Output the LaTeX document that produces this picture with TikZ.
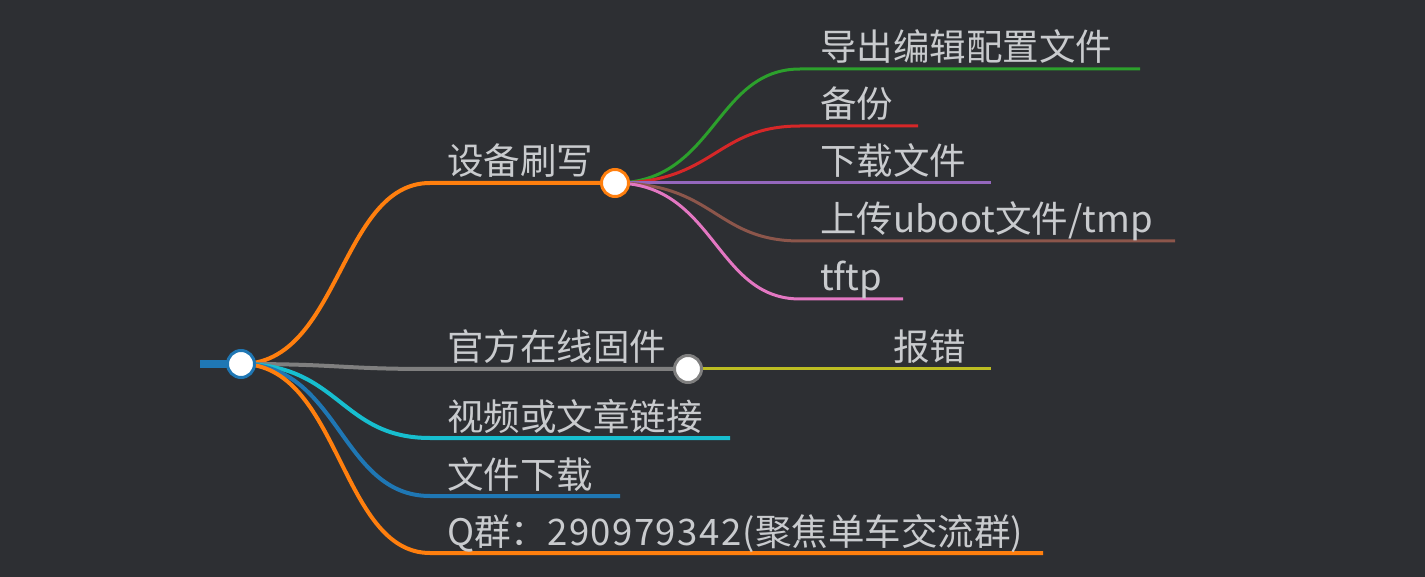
\documentclass[tikz,border=0pt]{standalone}
\usepackage{fontspec}
\newfontfamily\cjk{Noto Sans CJK SC}
\definecolor{bg}{HTML}{2D2F33}
\definecolor{txt}{HTML}{C9CBCE}
\definecolor{cblue}{HTML}{1F77B4}
\definecolor{corange}{HTML}{FF7F0E}
\definecolor{cgreen}{HTML}{2CA02C}
\definecolor{cred}{HTML}{D62728}
\definecolor{cpurple}{HTML}{9467BD}
\definecolor{cbrown}{HTML}{8C564B}
\definecolor{cpink}{HTML}{E377C2}
\definecolor{cgray}{HTML}{7F7F7F}
\definecolor{colive}{HTML}{BCBD22}
\definecolor{ccyan}{HTML}{17BECF}
\begin{document}
\begin{tikzpicture}[x=1pt,y=-1pt,
  br/.style={line width=4pt},
  sb/.style={line width=3pt},
  lab/.style={anchor=base west, inner sep=0pt, text=txt, font=\cjk\fontsize{36.5}{40}\selectfont},
  dotnode/.style={circle, fill=white, minimum size=27pt, inner sep=0pt, line width=3pt}]
\fill[bg] (0,0) rectangle (1425,577);
\useasboundingbox (0,0) rectangle (1425,577);
% coordinates
\coordinate (rootL) at (200,364);
\coordinate (root) at (241,364);
\coordinate (a1) at (430,183);  \coordinate (e1) at (615,183);
\coordinate (a2) at (430,369);  \coordinate (e2) at (688,369);
\coordinate (a3) at (430,438);  \coordinate (e3) at (730,438);
\coordinate (a4) at (430,496);  \coordinate (e4) at (620,496);
\coordinate (a5) at (430,553);  \coordinate (e5) at (1043,553);
\coordinate (s1) at (800,69);   \coordinate (f1) at (1140,69);
\coordinate (s2) at (800,126);  \coordinate (f2) at (918,126);
\coordinate (f3) at (991,183);
\coordinate (s4) at (800,241);  \coordinate (f4) at (1175,241);
\coordinate (s5) at (800,299);  \coordinate (f5) at (903,299);
\coordinate (f6) at (991,369);
% root bar
\draw[cblue, line width=8pt] (rootL) -- (root);
% main branches
\draw[br, corange] (root) .. controls (340,364) and (340,183) .. (a1) -- (e1);
\draw[br, cgray] (root) .. controls (340,364) and (340,369) .. (a2) -- (e2);
\draw[br, ccyan] (root) .. controls (340,364) and (340,438) .. (a3) -- (e3);
\draw[br, cblue] (root) .. controls (340,364) and (340,496) .. (a4) -- (e4);
\draw[br, corange] (root) .. controls (340,364) and (340,553) .. (a5) -- (e5);
% sub branches
\draw[sb, cgreen] (e1) .. controls (715,183) and (715,69) .. (s1) -- (f1);
\draw[sb, cred] (e1) .. controls (715,183) and (715,126) .. (s2) -- (f2);
\draw[sb, cpurple] (e1) -- (f3);
\draw[sb, cbrown] (e1) .. controls (715,183) and (715,241) .. (s4) -- (f4);
\draw[sb, cpink] (e1) .. controls (715,183) and (715,299) .. (s5) -- (f5);
\draw[sb, colive] (e2) -- (f6);
% dots
\node[dotnode, draw=cblue] (rootdot) at (root) {};
\node[dotnode, draw=corange] (dot1) at (e1) {};
\node[dotnode, draw=cgray] (dot2) at (e2) {};
% labels
\node[lab] (t1) at (447,175) {设备刷写};
\node[lab] (t2) at (447,361) {官方在线固件};
\node[lab] (t3) at (447,430) {视频或文章链接};
\node[lab] (t4) at (447,488) {文件下载};
\node[lab] (t5) at (447,545) {Q群：{\addfontfeature{LetterSpace=4}290979342(}聚焦单车交流群)};
\node[lab] (u1) at (820,61) {导出编辑配置文件};
\node[lab] (u2) at (820,118) {备份};
\node[lab] (u3) at (820,175) {下载文件};
\node[lab] (u4) at (820,233) {上传uboot文件/tmp};
\node[lab] (u5) at (820,291) {tftp};
\node[lab] (u6) at (893,361) {报错};
\end{tikzpicture}
\end{document}
